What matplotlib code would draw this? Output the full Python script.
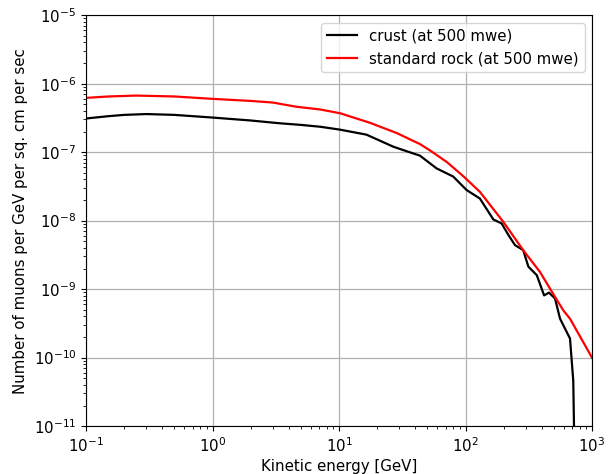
import matplotlib
matplotlib.use('Agg')
from matplotlib import pyplot as plt

# crust at 500 mwe
crust_e = [0.1, 0.15, 0.2, 0.3, 0.5, 1.0, 2.0, 3.4, 5.0, 7.1, 10.2, 16.5, 26.9, 36, 43.6, 59, 80, 102, 130, 166,
           193, 218, 246, 286, 314, 366, 418, 457, 510, 559, 670, 711, 735, 740]
crust_flux = [3.1e-7, 3.35e-7, 3.5e-7, 3.6e-7, 3.5e-7, 3.2e-7, 2.9e-7, 2.64e-7, 2.5e-7, 2.35e-7, 2.13e-7, 1.8e-7,
              1.2e-7, 1.0e-7, 8.9e-8, 5.8e-8, 4.4e-8, 2.8e-8, 2.1e-8, 1.04e-8, 9.1e-9, 6.2e-9, 4.4e-9, 3.7e-9,
              2.13e-9, 1.6e-9, 8.1e-10, 8.9e-10, 7.3e-10, 3.7e-10, 1.9e-10, 4.6e-11, 1e-12, 1e-13]

# standard rock at 500 mwe
rock_e = [0.1, 0.15, 0.25, 0.5, 1.0, 2.0, 3.0, 4.6, 7.1, 10.2, 17.6, 28.6, 43.7, 52, 71, 96, 130, 199, 286, 388,
          510, 593, 670, 1000]
rock_flux = [6.2e-7, 6.5e-7, 6.7e-7, 6.5e-7, 6.0e-7, 5.6e-7, 5.3e-7, 4.6e-7, 4.2e-7, 3.7e-7, 2.68e-7, 1.9e-7,
             1.31e-7, 1.07e-7, 7.2e-8, 4.46e-8, 2.63e-8, 9.6e-9, 3.7e-9, 1.78e-9, 7.7e-10, 4.9e-10, 3.7e-10, 1e-10]

plt.rcParams['font.size'] = 10.8

fig = plt.figure(figsize=(6.1, 4.74), dpi=100)
ax = fig.add_axes([0.141, 0.101, 0.8295, 0.867])
ax.plot(crust_e, crust_flux, color='black', linewidth=1.6, label='crust (at 500 mwe)')
ax.plot(rock_e, rock_flux, color='red', linewidth=1.6, label='standard rock (at 500 mwe)')
ax.set_xscale('log')
ax.set_yscale('log')
ax.set_xlim(0.1, 1000)
ax.set_ylim(1e-11, 1e-5)
ax.grid(True, which='major', color='#b0b0b0', linewidth=0.9)
ax.set_xlabel('Kinetic energy [GeV]', labelpad=3)
ax.set_ylabel('Number of muons per GeV per sq. cm per sec', labelpad=4)
ax.legend(loc='upper right')
fig.savefig('out.png', dpi=100)
